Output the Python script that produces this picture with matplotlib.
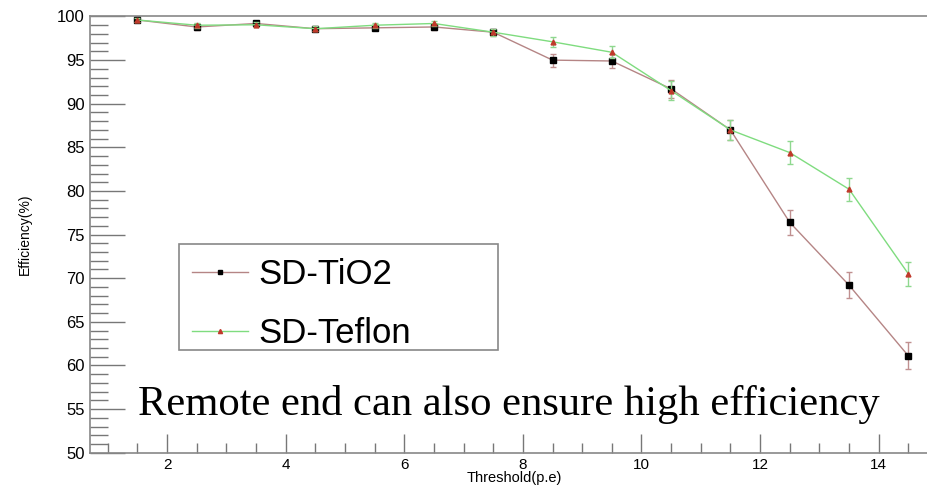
import matplotlib
matplotlib.use("Agg")
import matplotlib.pyplot as plt
from matplotlib.ticker import MultipleLocator
from matplotlib.lines import Line2D
from matplotlib.patches import Rectangle

thresholds = [1.5, 2.5, 3.5, 4.5, 5.5, 6.5, 7.5, 8.5, 9.5, 10.5, 11.5, 12.5, 13.5, 14.5]
tio2_eff = [99.6, 98.8, 99.2, 98.6, 98.7, 98.8, 98.2, 95.0, 94.9, 91.7, 87.0, 76.4, 69.2, 61.1]
tio2_err = [0.2, 0.3, 0.3, 0.3, 0.3, 0.3, 0.4, 0.75, 0.75, 1.0, 1.1, 1.4, 1.5, 1.55]
teflon_eff = [99.6, 99.0, 99.05, 98.6, 99.0, 99.2, 98.2, 97.1, 95.9, 91.5, 87.0, 84.4, 80.2, 70.5]
teflon_err = [0.2, 0.3, 0.3, 0.3, 0.3, 0.3, 0.4, 0.6, 0.7, 1.05, 1.15, 1.3, 1.3, 1.4]
labels = ["SD-TiO2", "SD-Teflon"]

tio2_line, tio2_marker, tio2_ecol = "#b58585", "black", "#c09090"
tef_line, tef_marker, tef_ecol = "#7fdc7f", "#c0392b", "#8fd88f"

fig = plt.figure(figsize=(9.28, 4.92), dpi=100)
W, H = 928, 492
left, right, top, bottom = 90, 938, 16.5, 452.7
ax = fig.add_axes([left / W, 1 - bottom / H, (right - left) / W, (bottom - top) / H])

ax.errorbar(thresholds, tio2_eff, yerr=tio2_err, color=tio2_line, lw=1.0,
            marker="s", ms=5, mfc=tio2_marker, mec=tio2_marker, ecolor=tio2_ecol,
            elinewidth=1.0, capsize=2, zorder=3)
ax.errorbar(thresholds, teflon_eff, yerr=teflon_err, color=tef_line, lw=1.0,
            marker="^", ms=3.5, mfc=tef_marker, mec=tef_marker, ecolor=tef_ecol,
            elinewidth=1.0, capsize=2, zorder=4)

ax.set_xlim(0.7, 15.0)
ax.set_ylim(50, 100)
ax.xaxis.set_major_locator(MultipleLocator(2))
ax.xaxis.set_minor_locator(MultipleLocator(0.5))
ax.yaxis.set_major_locator(MultipleLocator(5))
ax.yaxis.set_minor_locator(MultipleLocator(1))
ax.tick_params(axis="y", which="major", direction="in", length=25, width=1, color="#777777",
               labelsize=12, pad=4)
ax.tick_params(axis="y", which="minor", direction="in", length=13, width=1, color="#777777")
ax.tick_params(axis="x", which="major", direction="in", length=14, width=1, color="#777777",
               labelsize=11, pad=4)
ax.tick_params(axis="x", which="minor", direction="in", length=7, width=1, color="#777777")
for lab in ax.get_xticklabels() + ax.get_yticklabels():
    lab.set_fontfamily("Liberation Sans")
for s in ax.spines.values():
    s.set_color("#888888")
    s.set_linewidth(1.2)

ax.set_xlabel("Threshold(p.e)", fontsize=10.5, family="Liberation Sans", labelpad=-1)
ax.set_ylabel("Efficiency(%)", fontsize=10, family="Liberation Sans", labelpad=18)

# legend box (ROOT-style wide frame)
fig.patches.append(Rectangle((179 / W, 1 - 350 / H), (498 - 179) / W, (350 - 244) / H,
                             transform=fig.transFigure, fill=True, facecolor="white",
                             edgecolor="#888888", lw=1.2, zorder=5))
handles = [Line2D([], [], color=tio2_line, lw=1.0, marker="s", ms=3.5,
                  mfc=tio2_marker, mec=tio2_marker),
           Line2D([], [], color=tef_line, lw=1.0, marker="^", ms=3,
                  mfc=tef_marker, mec=tef_marker)]
leg = fig.legend(handles, labels, loc="upper left",
                 bbox_to_anchor=(192 / W, 1 - 258 / H),
                 prop={"family": "Liberation Sans", "size": 25}, frameon=False,
                 handlelength=1.6, handletextpad=0.3, borderpad=0, labelspacing=0.75,
                 borderaxespad=0)
leg.set_zorder(6)

fig.text(138 / W, 1 - 415 / H, "Remote end can also ensure high efficiency",
         family="Liberation Serif", fontsize=30.7, color="black", va="baseline", ha="left")

fig.savefig("out.png", dpi=100)
